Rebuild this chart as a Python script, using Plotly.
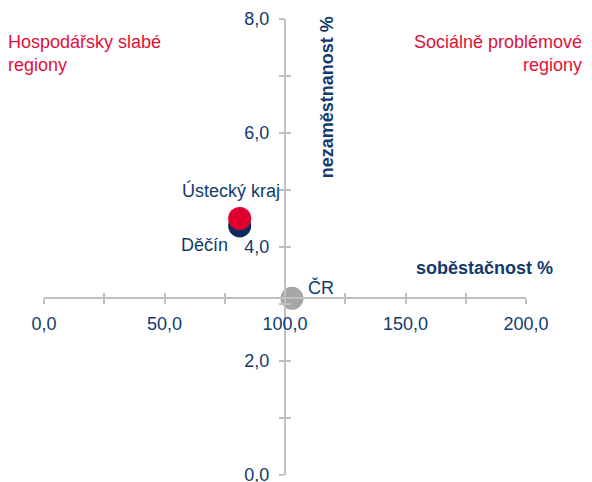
import plotly.graph_objects as go

# Data
names = ["Děčín", "Ústecký kraj", "ČR"]
sobestacnost = [81.2, 81.2, 102.9]      # x, %
nezamestnanost = [4.37, 4.50, 3.10]     # y, %
colors = ["#0b2c5f", "#df0030", "#a6a6a6"]

x_ticks = [0, 25, 50, 75, 100, 125, 150, 175, 200]
x_ticktext = ["0,0", "", "50,0", "", "100,0", "", "150,0", "", "200,0"]
y_ticks = [0, 1, 2, 3, 4, 5, 6, 7, 8]
y_ticktext = ["0,0", "", "2,0", "", "4,0", "", "6,0", "", "8,0"]

X_RANGE = [0, 200]
Y_RANGE = [0, 8]
X_CROSS = 100     # y axis crosses x axis at this x value
Y_CROSS = 3.1     # x axis crosses y axis at this y value

NAVY = "#123a6e"
RED = "#e0103a"
GRID = "#c0c0c0"
FONT = "Liberation Sans, Arial, sans-serif"

fig = go.Figure()

for n, xv, yv, c in zip(names, sobestacnost, nezamestnanost, colors):
    fig.add_trace(go.Scatter(
        x=[xv], y=[yv], mode="markers", name=n,
        marker=dict(size=23, color=c, line=dict(width=0)),
        hoverinfo="text", text=[n], showlegend=False, cliponaxis=False,
    ))

# invisible trace for the overlay axes (inside ticks)
fig.add_trace(go.Scatter(x=[X_CROSS], y=[Y_CROSS], xaxis="x2", yaxis="y2",
                         mode="markers", marker=dict(opacity=0), showlegend=False,
                         hoverinfo="skip"))

xpos = (Y_CROSS - Y_RANGE[0]) / (Y_RANGE[1] - Y_RANGE[0])
ypos = (X_CROSS - X_RANGE[0]) / (X_RANGE[1] - X_RANGE[0])

axis_common = dict(showgrid=False, zeroline=False, automargin=False,
                   tickcolor=GRID, tickwidth=2, ticklen=5, fixedrange=True)

fig.update_layout(
    width=584, height=474,
    margin=dict(l=36, r=66, t=11, b=7),
    paper_bgcolor="white", plot_bgcolor="white",
    font=dict(family=FONT, size=18, color=NAVY),
    xaxis=dict(range=X_RANGE, tickvals=x_ticks, ticktext=x_ticktext,
               anchor="free", position=xpos, showline=True, linecolor=GRID,
               linewidth=2, ticks="outside", ticklabelstandoff=4,
               ticklabeloverflow="allow",
               tickfont=dict(size=18, color=NAVY), **axis_common),
    yaxis=dict(range=Y_RANGE, tickvals=y_ticks, ticktext=y_ticktext,
               anchor="free", position=ypos, showline=True, linecolor=GRID,
               linewidth=2, ticks="outside", ticklabelstandoff=6,
               ticklabeloverflow="allow",
               tickfont=dict(size=18, color=NAVY), **axis_common),
    xaxis2=dict(range=X_RANGE, tickvals=x_ticks, overlaying="x", matches="x",
                anchor="free", position=xpos, showline=False, ticks="inside",
                showticklabels=False, **axis_common),
    yaxis2=dict(range=Y_RANGE, tickvals=y_ticks, overlaying="y", matches="y",
                anchor="free", position=ypos, showline=False, ticks="inside",
                showticklabels=False, **axis_common),
    showlegend=False,
)

# Point labels
fig.add_annotation(x=sobestacnost[1], y=nezamestnanost[1], text="Ústecký kraj",
                   showarrow=False, xshift=-9, yshift=28, font=dict(size=18, color=NAVY))
fig.add_annotation(x=sobestacnost[0], y=nezamestnanost[0], text="Děčín",
                   showarrow=False, xshift=-35, yshift=-19, font=dict(size=18, color=NAVY))
fig.add_annotation(x=sobestacnost[2], y=nezamestnanost[2], text="ČR",
                   showarrow=False, xshift=29, yshift=11, font=dict(size=18, color=NAVY))

# Axis titles
fig.add_annotation(xref="paper", yref="paper", x=0.587, y=0.828,
                   xanchor="center", yanchor="middle",
                   text="<b>nezaměstnanost %</b>", textangle=-90, showarrow=False,
                   font=dict(size=18, color=NAVY))
fig.add_annotation(xref="paper", yref="paper", x=0.913, y=0.455,
                   xanchor="center", yanchor="middle",
                   text="<b>soběstačnost %</b>", showarrow=False,
                   font=dict(size=18, color=NAVY))

# Quadrant labels
fig.add_annotation(xref="paper", yref="paper", x=-0.079, y=0.976,
                   xanchor="left", yanchor="top", align="left",
                   text="Hospodářsky slabé<br>regiony", showarrow=False,
                   font=dict(size=18, color=RED))
fig.add_annotation(xref="paper", yref="paper", x=1.121, y=0.976,
                   xanchor="right", yanchor="top", align="right",
                   text="Sociálně problémové<br>regiony", showarrow=False,
                   font=dict(size=18, color=RED))

fig.write_html("out.html")
